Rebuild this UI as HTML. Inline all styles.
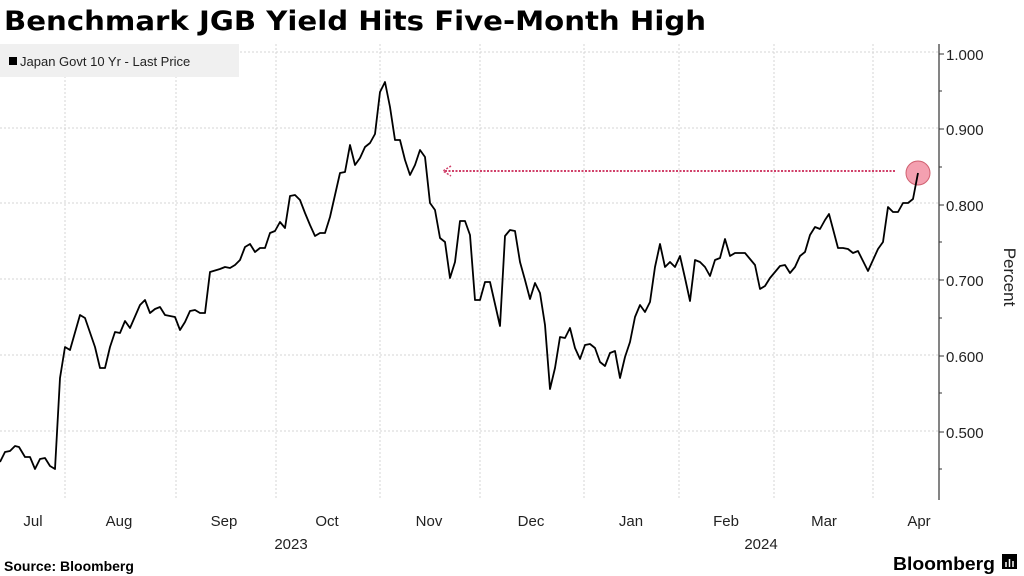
<!DOCTYPE html>
<html><head><style>
body{margin:0;background:#fff;width:1024px;height:576px;overflow:hidden;font-family:"Liberation Sans","DejaVu Sans",sans-serif}
</style></head><body>
<svg width="1024" height="576" xmlns="http://www.w3.org/2000/svg" style="position:absolute;left:0;top:0">
<text x="4" y="30" font-size="27" font-weight="bold" fill="#000" font-family="DejaVu Sans,Liberation Sans,sans-serif" textLength="702" lengthAdjust="spacingAndGlyphs">Benchmark JGB Yield Hits Five-Month High</text>
<g stroke="#d4d4d4" stroke-width="1" stroke-dasharray="2,2">
<line x1="0" x2="938" y1="52" y2="52"/><line x1="0" x2="938" y1="128" y2="128"/><line x1="0" x2="938" y1="203" y2="203"/><line x1="0" x2="938" y1="279" y2="279"/><line x1="0" x2="938" y1="355" y2="355"/><line x1="0" x2="938" y1="431" y2="431"/>
<line x1="65" x2="65" y1="44" y2="500"/><line x1="176" x2="176" y1="44" y2="500"/><line x1="276" x2="276" y1="44" y2="500"/><line x1="380" x2="380" y1="44" y2="500"/><line x1="480" x2="480" y1="44" y2="500"/><line x1="584" x2="584" y1="44" y2="500"/><line x1="679" x2="679" y1="44" y2="500"/><line x1="774" x2="774" y1="44" y2="500"/><line x1="873" x2="873" y1="44" y2="500"/>
</g>
<rect x="0" y="44" width="239" height="33" fill="#f0f0f0"/>
<rect x="9" y="57" width="8" height="8" fill="#000"/>
<text x="20" y="66" font-size="13" fill="#222">Japan Govt 10 Yr - Last Price</text>
<line x1="939" y1="44" x2="939" y2="500" stroke="#333" stroke-width="1.2"/>
<g stroke="#333"><line x1="939" x2="944" y1="54" y2="54"/><line x1="939" x2="944" y1="129" y2="129"/><line x1="939" x2="944" y1="205" y2="205"/><line x1="939" x2="944" y1="280" y2="280"/><line x1="939" x2="944" y1="356" y2="356"/><line x1="939" x2="944" y1="432" y2="432"/>
<line x1="939" x2="942" y1="91" y2="91"/><line x1="939" x2="942" y1="167" y2="167"/><line x1="939" x2="942" y1="242" y2="242"/><line x1="939" x2="942" y1="318" y2="318"/><line x1="939" x2="942" y1="393" y2="393"/><line x1="939" x2="942" y1="469" y2="469"/></g>
<g font-size="15" fill="#222">
<text x="946" y="60">1.000</text><text x="946" y="135">0.900</text><text x="946" y="211">0.800</text><text x="946" y="286">0.700</text><text x="946" y="362">0.600</text><text x="946" y="438">0.500</text>
</g>
<text transform="translate(1004,277) rotate(90)" font-size="17" fill="#222" text-anchor="middle">Percent</text>
<line x1="895" y1="171" x2="445" y2="171" stroke="#d0406a" stroke-width="2" stroke-dasharray="2,1.5"/>
<path d="M451 166 L443 171 L451 176" fill="none" stroke="#d0406a" stroke-width="1.5" stroke-dasharray="2,1.5"/>
<circle cx="918" cy="173" r="12" fill="#f4a0b0" stroke="#d06070" stroke-width="1"/>
<polyline fill="none" stroke="#000" stroke-width="1.8" stroke-linejoin="round" points="0,462 5,452 10,451 15,446 19,447 25,457 30,457 35,469 40,459 45,458 50,466 55,469 60,378 65,347 70,350 80,315 85,318 95,347 100,368 105,368 110,347 115,332 120,333 125,321 130,328 140,305 145,300 150,313 155,309 160,307 165,315 175,317 180,330 185,322 190,311 195,310 200,313 205,313 210,272 220,269 225,267 230,268 235,265 240,260 245,247 250,244 255,252 260,248 265,248 270,233 275,231 280,222 285,228 290,196 295,195 300,200 305,213 310,225 315,236 320,233 325,233 330,217 335,195 340,173 345,172 350,145 355,165 360,158 365,147 370,143 375,134 380,92 385,82 390,107 395,140 400,140 405,160 410,175 415,165 420,150 425,157 430,203 435,210 440,238 445,242 450,278 455,262 460,221 465,221 470,235 475,300 480,300 485,282 490,282 500,326 505,236 510,230 515,231 520,262 525,280 530,299 535,283 540,293 545,325 550,389 555,368 560,337 565,338 570,328 575,348 580,359 585,345 590,344 595,348 600,362 605,366 610,353 615,351 620,378 625,357 630,342 635,317 640,305 645,312 650,302 655,267 660,244 665,267 670,262 675,267 680,256 685,278 690,301 695,260 700,262 705,267 710,276 715,260 720,258 725,239 730,256 735,253 740,253 745,253 750,259 755,265 760,289 765,286 770,278 775,272 780,266 785,265 790,273 795,267 800,256 805,252 810,235 815,227 820,229 825,220 829,214 833,229 838,248 843,248 848,249 853,253 858,251 863,261 868,271 873,260 878,249 883,242 888,207 893,212 898,212 903,203 908,203 913,199 918,173"/>
<g font-size="15" fill="#222" text-anchor="middle">
<text x="33" y="526">Jul</text><text x="119" y="526">Aug</text><text x="224" y="526">Sep</text><text x="327" y="526">Oct</text><text x="429" y="526">Nov</text><text x="531" y="526">Dec</text><text x="631" y="526">Jan</text><text x="726" y="526">Feb</text><text x="824" y="526">Mar</text><text x="919" y="526">Apr</text>
<text x="291" y="549">2023</text><text x="761" y="549">2024</text>
</g>
<text x="4" y="571" font-size="14" font-weight="bold" fill="#000">Source: Bloomberg</text>
<text x="893" y="570" font-size="18" font-weight="bold" fill="#000" textLength="102" lengthAdjust="spacingAndGlyphs">Bloomberg</text>
<rect x="1002" y="554" width="15" height="15" fill="#000"/>
<g stroke="#fff" stroke-width="1.5"><line x1="1006" y1="567" x2="1006" y2="562"/><line x1="1009.5" y1="567" x2="1009.5" y2="559"/><line x1="1013" y1="567" x2="1013" y2="561"/></g>
</svg>
</body></html>
